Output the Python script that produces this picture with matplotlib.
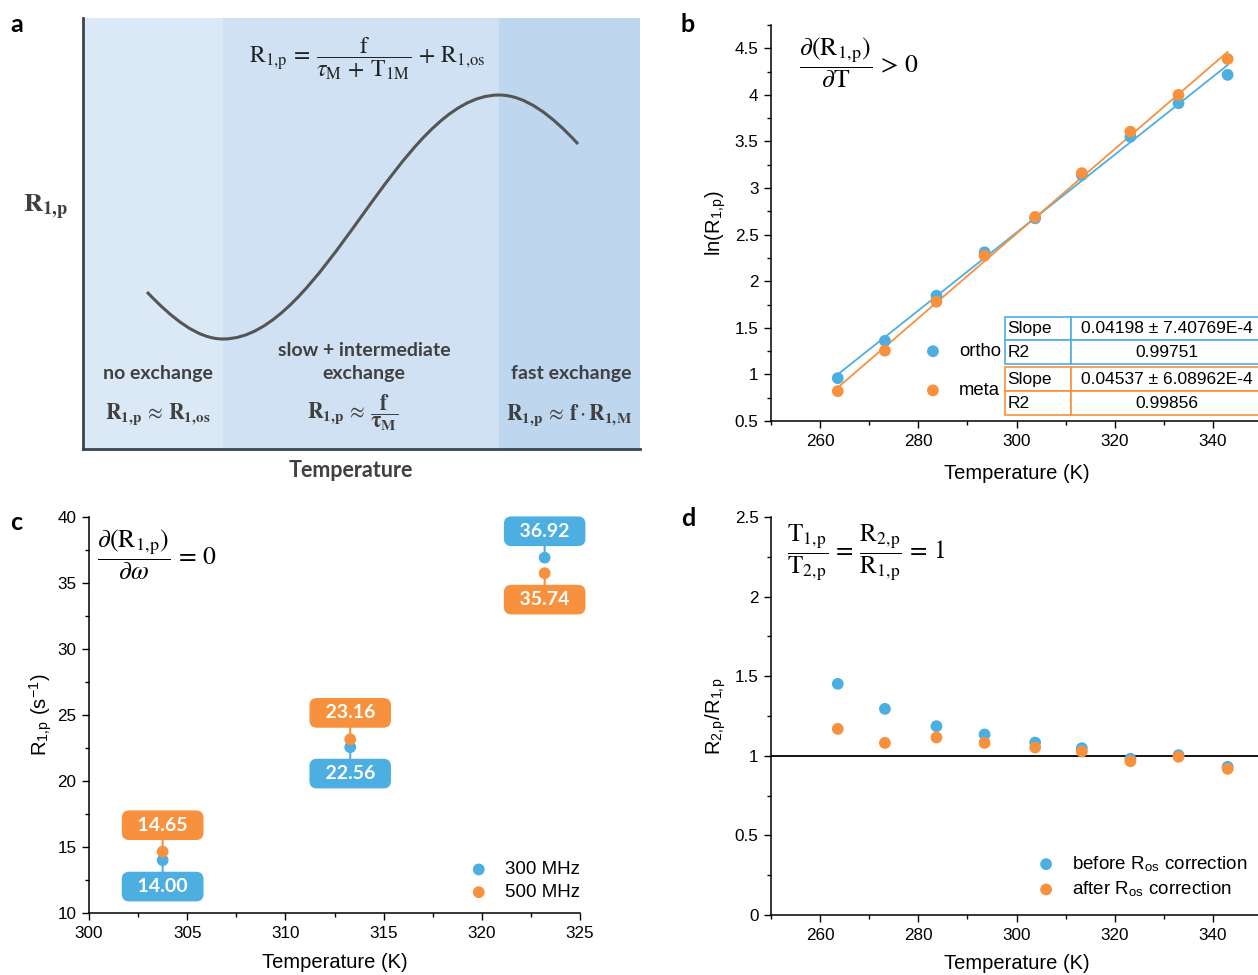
import numpy as np
import matplotlib
matplotlib.use("Agg")
import matplotlib.pyplot as plt
from matplotlib.path import Path
from matplotlib.patches import PathPatch, Rectangle
from matplotlib.ticker import MultipleLocator

plt.rcParams['font.family'] = ['Liberation Sans', 'DejaVu Sans']
plt.rcParams['mathtext.fontset'] = 'stix'

# ---------------- data ----------------
# panel a schematic (axes units = pixels inside panel): start, minimum, maximum, end
curve_x = [64, 140, 416, 495]
curve_y = [157, 110, 354, 305]
band_edges = [0, 140, 416, 557]
band_colors = ['#dbe8f5', '#cfe1f2', '#bed7ee']

# panel b
temps_b = [263.6, 273.2, 283.7, 293.5, 303.8, 313.3, 323.2, 333.0, 343.0]
ln_ortho = [0.96, 1.36, 1.845, 2.31, 2.675, 3.14, 3.55, 3.91, 4.215]
ln_meta = [0.82, 1.255, 1.78, 2.275, 2.69, 3.16, 3.605, 4.0, 4.385]
table_ortho = [['Slope', '0.04198 \u00b1 7.40769E-4'], ['R2', '0.99751']]
table_meta = [['Slope', '0.04537 \u00b1 6.08962E-4'], ['R2', '0.99856']]

# panel c
temps_c = [303.75, 313.3, 323.2]
r1_300 = [14.00, 22.56, 36.92]
r1_500 = [14.65, 23.16, 35.74]
labels_300 = ['14.00', '22.56', '36.92']
labels_500 = ['14.65', '23.16', '35.74']
offset_300 = [-1, -1, 1]   # label below (-1) or above (+1)
offset_500 = [1, 1, -1]

# panel d
ratio_before = [1.452, 1.295, 1.186, 1.134, 1.083, 1.048, 0.981, 1.004, 0.931]
ratio_after = [1.169, 1.081, 1.115, 1.081, 1.052, 1.027, 0.966, 0.994, 0.918]

BLUE = '#4daee2'
ORANGE = '#f7913d'
GRAY = '#404040'

W, H = 1258, 975
fig = plt.figure(figsize=(W / 100, H / 100), dpi=100)


def px_axes(x0, y_top, x1, y_bot):
    return fig.add_axes([x0 / W, 1 - y_bot / H, (x1 - x0) / W, (y_bot - y_top) / H])


def style(ax):
    for s in ['top', 'right']:
        ax.spines[s].set_visible(False)
    for s in ['left', 'bottom']:
        ax.spines[s].set_linewidth(1.1)
    ax.tick_params(which='major', direction='out', length=5, width=1.0, labelsize=12.3, pad=4)
    ax.tick_params(which='minor', direction='out', length=3, width=1.0)


# ---------------- panel a ----------------
axa = px_axes(83, 18, 640, 449)
axa.set_xlim(0, 557)
axa.set_ylim(0, 431)
for i, c in enumerate(band_colors):
    axa.add_patch(Rectangle((band_edges[i], 0), band_edges[i + 1] - band_edges[i], 431,
                            facecolor=c, edgecolor='none', zorder=0))
sx, mx, xx, ex = curve_x
sy, my, xy, ey = curve_y
k = 0.3634 * (xx - mx)
h1 = (mx - sx) / 3
h2 = (ex - xx) / 3
slope_s, slope_e = -1.05, -1.09
verts = [(sx, sy), (sx + h1, sy + slope_s * h1), (mx - h1, my), (mx, my),
         (mx + k, my), (xx - k, xy), (xx, xy),
         (xx + h2, xy), (ex - h2, ey - slope_e * h2), (ex, ey)]
codes = [Path.MOVETO] + [Path.CURVE4] * 9
axa.add_patch(PathPatch(Path(verts, codes), facecolor='none', edgecolor='#555555', lw=2.2, zorder=3))
for s in ['top', 'right']:
    axa.spines[s].set_visible(False)
for s in ['left', 'bottom']:
    axa.spines[s].set_linewidth(2)
    axa.spines[s].set_color('#3a4550')
axa.set_xticks([])
axa.set_yticks([])

lato_b = dict(family=['Lato', 'DejaVu Sans'], fontweight='bold', color=GRAY)
axa.text(284, 390, r'$\mathrm{R}_{1,\!\mathrm{p}}\, = \,\dfrac{\mathrm{f}}{\tau_{\mathrm{M}}\, +\, \mathrm{T}_{1\mathrm{M}}}\, +\, \mathrm{R}_{1,\!\mathrm{os}}$',
         ha='center', va='center', fontsize=17, color='#222222')
axa.text(75, 76, 'no exchange', ha='center', va='center', fontsize=14, **lato_b)
axa.text(281, 99, 'slow + intermediate', ha='center', va='center', fontsize=14, **lato_b)
axa.text(281, 76, 'exchange', ha='center', va='center', fontsize=14, **lato_b)
axa.text(488, 76, 'fast exchange', ha='center', va='center', fontsize=14, **lato_b)
axa.text(75, 35, r'$\mathbf{R}_{\mathbf{1,\!p}}\, \approx \,\mathbf{R}_{\mathbf{1,\!os}}$', ha='center', va='center',
         fontsize=15.5, color=GRAY)
axa.text(270, 36, r'$\mathbf{R}_{\mathbf{1,\!p}}\, \approx \,\dfrac{\mathbf{f}}{\mathbf{\tau}_{\mathbf{M}}}$', ha='center', va='center',
         fontsize=15.5, color=GRAY)
axa.text(486, 34, r'$\mathbf{R}_{\mathbf{1,\!p}}\, \approx \,\mathbf{f} \cdot \mathbf{R}_{\mathbf{1,\!M}}$', ha='center', va='center',
         fontsize=15.5, color=GRAY)
fig.text(351 / W, 1 - 470 / H, 'Temperature', ha='center', va='center', fontsize=15.5, **lato_b)
fig.text(46 / W, 1 - 207 / H, r'$\mathbf{R}_{\mathbf{1,\!p}}$', ha='center', va='center', fontsize=19, color=GRAY)

# panel letters
for lt, (x, y) in zip('abcd', [(17, 25), (688, 25), (16, 522), (688, 518)]):
    fig.text(x / W, 1 - y / H, lt, ha='center', va='center', fontsize=18,
             family=['Lato', 'DejaVu Sans'], fontweight='bold', color='black')

# ---------------- panel b ----------------
axb = px_axes(771, 25, 1262, 421)
style(axb)
axb.set_xlim(250, 350)
axb.set_ylim(0.5, 4.75)
axb.xaxis.set_minor_locator(MultipleLocator(10))
axb.yaxis.set_minor_locator(MultipleLocator(0.25))
axb.set_xticks([260, 280, 300, 320, 340])
axb.set_yticks([0.5, 1, 1.5, 2, 2.5, 3, 3.5, 4, 4.5])
axb.set_yticklabels(['0.5', '1', '1.5', '2', '2.5', '3', '3.5', '4', '4.5'])
tb = np.array(temps_b)
for vals, col, lab in [(ln_ortho, BLUE, 'ortho'), (ln_meta, ORANGE, 'meta')]:
    p = np.polyfit(tb, vals, 1)
    axb.plot([tb[0], tb[-1]], np.polyval(p, [tb[0], tb[-1]]), color=col, lw=1.3, zorder=2)
    axb.scatter(tb, vals, s=72, color=col, zorder=3, label=lab, edgecolors='none')
axb.set_xlabel('Temperature (K)', fontsize=14.5, labelpad=11)
axb.set_ylabel(r'ln(R$_{\mathregular{1,\!p}}$)', fontsize=14.5, labelpad=5)
axb.text(0.058, 0.975, r'$\dfrac{\partial\left(\mathrm{R}_{1,\!\mathrm{p}}\right)}{\partial\mathrm{T}}\, > \,0$',
         transform=axb.transAxes, ha='left', va='top', fontsize=18.5)
axb.legend(loc='lower right', bbox_to_anchor=(0.468, 0.055), frameon=False, fontsize=13.3,
           handlelength=0.8, handletextpad=1.0, labelspacing=1.2, borderpad=0, borderaxespad=0,
           scatterpoints=1)

for data, col, y0, hh in [(table_ortho, BLUE, 0.144, 0.119), (table_meta, ORANGE, 0.015, 0.121)]:
    t = axb.table(cellText=data, colWidths=[0.257, 0.743], bbox=[0.4766, y0, 0.5234, hh],
                  cellLoc='center', zorder=5)
    t.auto_set_font_size(False)
    t.set_fontsize(12.5)
    for (r, c), cell in t.get_celld().items():
        cell.set_edgecolor(col)
        cell.set_linewidth(1.2)
        cell.set_facecolor('white')
        if c == 0:
            cell.get_text().set_ha('left')
            cell.PAD = 0.04
    t.set_clip_on(False)

# ---------------- panel c ----------------
axc = px_axes(89, 517, 580, 913)
style(axc)
axc.set_xlim(300, 325)
axc.set_ylim(10, 40)
axc.xaxis.set_major_locator(MultipleLocator(5))
axc.xaxis.set_minor_locator(MultipleLocator(2.5))
axc.yaxis.set_major_locator(MultipleLocator(5))
axc.yaxis.set_minor_locator(MultipleLocator(2.5))
axc.scatter(temps_c, r1_300, s=72, color=BLUE, zorder=4, label='300 MHz', edgecolors='none')
axc.scatter(temps_c, r1_500, s=72, color=ORANGE, zorder=4, label='500 MHz', edgecolors='none')
for xs, ys, labs, offs, col in [(temps_c, r1_300, labels_300, offset_300, BLUE),
                                 (temps_c, r1_500, labels_500, offset_500, ORANGE)]:
    for x, y, lab, o in zip(xs, ys, labs, offs):
        axc.annotate('  ' + lab + '  ', xy=(x, y), xytext=(0, 19 * o), textcoords='offset points',
                     ha='center', va='center', color='white', fontsize=14,
                     family=['Lato', 'DejaVu Sans'], fontweight='bold', zorder=3,
                     bbox=dict(boxstyle='round,pad=0.29,rounding_size=0.35', fc=col, ec=col),
                     arrowprops=dict(arrowstyle='-', color=col, lw=1.5, shrinkA=0, shrinkB=0))
axc.set_xlabel('Temperature (K)', fontsize=14.5, labelpad=9)
axc.set_ylabel(r'R$_{\mathregular{1,\!p}}$ (s$^{\mathregular{-1}}$)', fontsize=14.5, labelpad=2)
axc.text(0.016, 0.975, r'$\dfrac{\partial\left(\mathrm{R}_{1,\!\mathrm{p}}\right)}{\partial\omega}\, = \,0$',
         transform=axc.transAxes, ha='left', va='top', fontsize=18.5)
axc.legend(loc='lower right', bbox_to_anchor=(1.0, 0.03), frameon=False, fontsize=13.5,
           handlelength=0.8, handletextpad=1.0, labelspacing=0.3, borderpad=0, borderaxespad=0)

# ---------------- panel d ----------------
axd = px_axes(771, 517, 1262, 915)
style(axd)
axd.set_xlim(250, 350)
axd.set_ylim(0, 2.5)
axd.set_xticks([260, 280, 300, 320, 340])
axd.xaxis.set_minor_locator(MultipleLocator(10))
axd.set_yticks([0, 0.5, 1, 1.5, 2, 2.5])
axd.set_yticklabels(['0', '0.5', '1', '1.5', '2', '2.5'])
axd.yaxis.set_minor_locator(MultipleLocator(0.25))
axd.axhline(1, color='black', lw=1.3, zorder=1)
axd.scatter(tb, ratio_before, s=72, color=BLUE, zorder=3, edgecolors='none',
            label=r'before R$_{\mathregular{os}}$ correction')
axd.scatter(tb, ratio_after, s=72, color=ORANGE, zorder=4, edgecolors='none',
            label=r'after R$_{\mathregular{os}}$ correction')
axd.set_xlabel('Temperature (K)', fontsize=14.5, labelpad=8)
axd.set_ylabel(r'R$_{\mathregular{2,\!p}}$/R$_{\mathregular{1,\!p}}$', fontsize=14.5, labelpad=5)
axd.text(0.033, 0.985, r'$\dfrac{\mathrm{T}_{1,\!\mathrm{p}}}{\mathrm{T}_{2,\!\mathrm{p}}}\, = \,\dfrac{\mathrm{R}_{2,\!\mathrm{p}}}{\mathrm{R}_{1,\!\mathrm{p}}}\, = \,1$',
         transform=axd.transAxes, ha='left', va='top', fontsize=18)
axd.legend(loc='lower left', bbox_to_anchor=(0.545, 0.04), frameon=False, fontsize=13.5,
           handlelength=0.8, handletextpad=1.0, labelspacing=0.3, borderpad=0, borderaxespad=0)

fig.savefig('out.png', dpi=100)
